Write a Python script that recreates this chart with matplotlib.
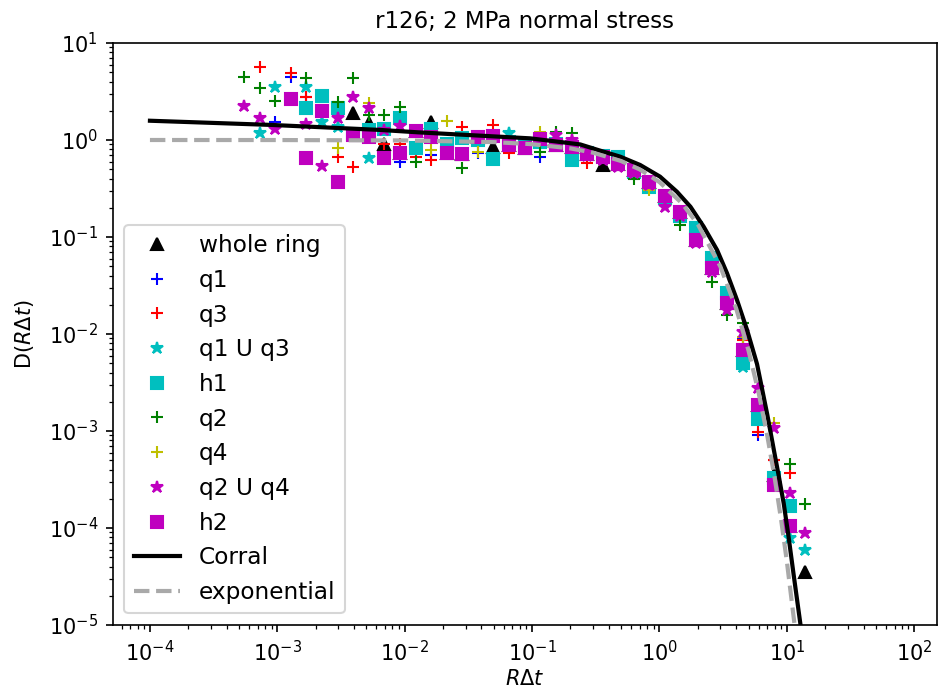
import numpy as np
import matplotlib
matplotlib.use("Agg")
import matplotlib.pyplot as plt

nan = np.nan

# common R*dt bins
bins = [5.47e-4, 7.25e-4, 9.61e-4, 1.27e-3, 1.69e-3, 2.24e-3, 2.97e-3, 3.94e-3,
        5.22e-3, 6.92e-3, 9.17e-3, 1.22e-2, 1.61e-2, 2.14e-2, 2.83e-2, 3.75e-2,
        4.97e-2, 6.59e-2, 8.73e-2, 0.116, 0.153, 0.204, 0.270, 0.357, 0.474,
        0.628, 0.833, 1.10, 1.46, 1.94, 2.57, 3.41, 4.52, 5.98, 7.94, 10.5, 13.96]

whole = [nan, nan, nan, nan, nan, nan, nan, 1.91, 1.49, 0.92, 0.73, 1.25, 1.55,
         0.73, 0.72, 1.07, 0.85, 0.89, 0.83, 1.02, 0.89, 0.85, 0.72, 0.552, 0.566,
         0.494, 0.365, 0.265, 0.179, 0.093, 0.0476, 0.021, 0.00684, 0.00185,
         3.5e-4, 1.05e-4, 3.5e-5]
q1 = [nan, nan, 1.55, 4.5, 2.75, 2.85, 2.12, 1.13, 1.07, 0.65, 0.6, 1.25, 0.70,
      0.73, 0.72, 0.73, 1.11, 0.89, 0.83, 0.67, 0.89, 0.85, 0.72, 0.67, 0.566,
      0.494, 0.365, 0.265, 0.179, 0.093, 0.0476, 0.021, 0.0088, 9.1e-4, 5.0e-4,
      nan, nan]
q3 = [nan, 5.70, nan, 4.87, 2.8, 2.85, 0.67, 0.523, 1.07, 0.9, 0.92, 0.67, 0.62,
      0.73, 1.37, 1.07, 1.43, 0.73, 0.83, 1.02, 0.89, 0.85, 0.575, 0.67, 0.566,
      0.494, 0.365, 0.265, 0.179, 0.093, 0.0476, 0.021, 0.00867, 9.8e-4, 5.0e-4,
      3.7e-4, nan]
q1q3 = [nan, 1.17, 3.54, 2.63, 3.54, 1.55, 1.37, 1.13, 0.65, 0.65, 0.73, 1.25,
        1.07, 0.73, 0.72, 1.07, 1.11, 1.17, 0.83, 1.02, 0.89, 0.85, 0.72, 0.67,
        0.566, 0.494, 0.34, 0.25, 0.165, 0.115, 0.056, 0.024, 0.0046, 0.0013,
        3.2e-4, 7.8e-5, 6.0e-5]
h1 = [nan, nan, nan, nan, 2.14, 2.85, 2.12, 1.15, 1.27, 1.30, 1.67, 0.83, 1.30,
      0.92, 1.05, 1.0, 0.64, 0.95, 0.88, 0.95, 0.9, 0.62, 0.74, 0.68, 0.67, 0.47,
      0.33, 0.25, 0.165, 0.124, 0.0608, 0.0265, 0.00502, 0.00132, 3.3e-4,
      1.69e-4, nan]
q2 = [4.5, 3.41, 2.54, 2.63, 4.33, 2.01, 2.48, 4.33, 1.81, 1.79, 2.17, 0.60,
      1.07, 0.73, 0.51, 1.07, 1.11, 0.89, 0.83, 0.76, 1.22, 1.17, 0.72, 0.67,
      0.566, 0.40, 0.365, 0.265, 0.133, 0.093, 0.0346, 0.0157, 0.0129, 0.00185,
      2.8e-4, 4.6e-4, 1.77e-4]
q4 = [nan, nan, nan, nan, nan, 2.01, 0.82, 1.13, 2.39, 0.65, 0.73, 1.25, 0.79,
      1.58, 0.72, 0.76, 1.11, 0.89, 0.83, 1.22, 0.89, 0.85, 0.72, 0.67, 0.566,
      0.494, 0.305, 0.265, 0.179, 0.093, 0.0476, 0.021, 0.00925, 0.00185,
      0.0012, nan, nan]
q2q4 = [2.26, 1.67, 1.29, 2.63, 1.46, 0.54, 1.67, 2.80, 2.12, 1.27, 1.4, 1.25,
        1.07, 0.73, 0.72, 1.07, 1.11, 0.89, 0.83, 1.02, 1.13, 1.0, 0.68, 0.62,
        0.53, 0.46, 0.34, 0.205, 0.165, 0.086, 0.044, 0.0177, 0.0106, 0.00275,
        0.00107, 2.28e-4, 8.8e-5]
h2 = [nan, nan, nan, 2.63, 0.66, 2.01, 0.372, 1.13, 1.07, 0.65, 0.73, 1.25, 1.07,
      0.73, 0.72, 1.07, 1.11, 0.89, 0.83, 1.02, 0.89, 0.85, 0.72, 0.67, 0.566,
      0.494, 0.365, 0.265, 0.179, 0.093, 0.0476, 0.021, 0.00684, 0.00185,
      2.8e-4, 1.05e-4, nan]

# model curves
corral_x = [1e-4, 9e-4, 6.4e-3, 1.27e-2, 9.66e-2, 0.239, 0.343, 0.492, 0.706,
            1.01, 1.37, 1.75, 2.22, 2.83, 3.39, 4.06, 4.87, 5.83, 7.0, 7.88,
            8.61, 9.44, 10.3, 11.3, 12.8]
corral_y = [1.58, 1.43, 1.27, 1.2, 1.04, 0.9, 0.776, 0.673, 0.552, 0.419, 0.293,
            0.205, 0.128, 0.0735, 0.0423, 0.0224, 0.011, 0.0049, 0.0015, 6.5e-4,
            3.5e-4, 1.8e-4, 8.2e-5, 3.3e-5, 1e-5]
expo_x = [1e-4, 1e-3, 1e-2, 0.05, 0.1, 0.2, 0.3, 0.5, 0.7, 1, 1.5, 2, 3, 4, 5,
          6, 7, 8, 9, 10, 11.5]
expo_y = [1.0, 0.999, 0.99, 0.951, 0.905, 0.819, 0.741, 0.607, 0.497, 0.368,
          0.223, 0.135, 0.0498, 0.0183, 0.00674, 0.00248, 9.1e-4, 3.35e-4,
          1.23e-4, 4.5e-5, 1.0e-5]

series = [
    (whole, 'k^', 'whole ring'),
    (q1, 'b+', 'q1'),
    (q3, 'r+', 'q3'),
    (q1q3, 'c*', 'q1 U q3'),
    (h1, 'cs', 'h1'),
    (q2, 'g+', 'q2'),
    (q4, 'y+', 'q4'),
    (q2q4, 'm*', 'q2 U q4'),
    (h2, 'ms', 'h2'),
]

fig = plt.figure(figsize=(938 / 150, 693 / 150), dpi=150)
ax = fig.add_axes([112.7 / 938, 1 - 625 / 693, 824 / 938, 582 / 693])

for ys, fmt, lab in series:
    ax.loglog(bins, ys, fmt, label=lab)

ax.loglog(corral_x, corral_y, 'k-', lw=2, label='Corral')
ax.loglog(expo_x, expo_y, '--', color='darkgray', lw=2, label='exponential')

ax.set_xlim(5.1e-5, 150)
ax.set_ylim(1e-5, 10)
ax.set_xlabel(r'$R\Delta t$', labelpad=2)
ax.set_ylabel(r'D($R\Delta t$)', labelpad=6)
ax.set_title('r126; 2 MPa normal stress', fontsize=11, pad=7)
ax.legend(loc='lower left', fontsize=11.2)

fig.savefig('out.png', dpi=150)
